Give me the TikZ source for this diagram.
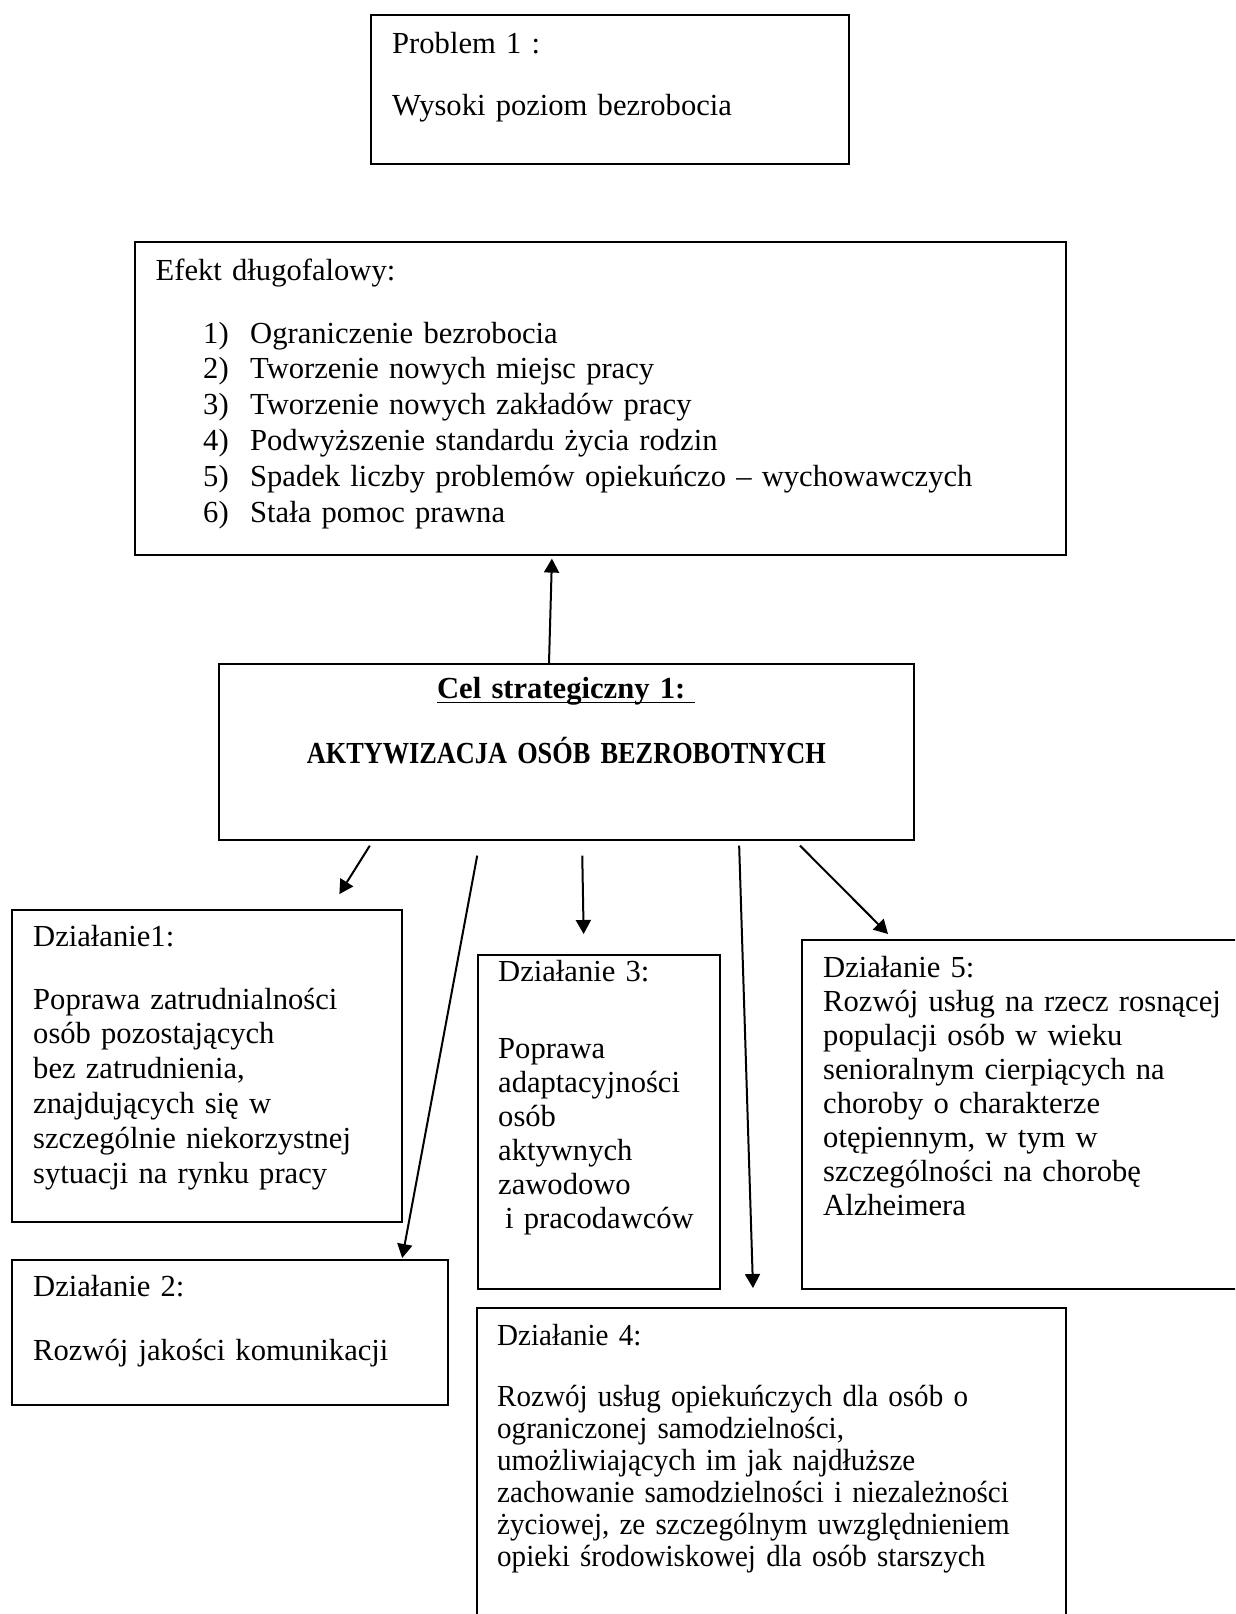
\documentclass[tikz,border=0pt]{standalone}
\usepackage{fontspec}
\setmainfont{Liberation Serif}
\newfontfamily\capsfont[FakeStretch=0.86]{Liberation Serif}
\newfontfamily\narrowfont[FakeStretch=0.95]{Liberation Serif}
\usetikzlibrary{arrows.meta,calc}
\newcommand{\efpunkt}[1]{\hspace*{47.5pt}\makebox[47pt][l]{#1}}

\begin{document}
\begin{tikzpicture}[x=1pt,y=-1pt,
                    box/.style={draw, line width=1.6pt, inner sep=0pt, anchor=north west},
                    txt/.style={inner sep=0pt, anchor=base west, align=left, text width=#1},
                    txt/.default=900pt,
                    times/.style={font=\fontsize{30.6}{#1}\selectfont},
                    times/.default=34.8pt,
                    arr/.style={line width=2pt, -{Triangle[length=14pt,width=15pt]}}]
                    \useasboundingbox (0,0) rectangle (1235,1614);
                    \clip (0,0) rectangle (1235,1614);
                    % problem i efekt
                    \node[box, minimum width=478pt, minimum height=149pt] (prob) at (370,14) {};
                    \node[txt, times=35.8pt] (probtxt) at ($(prob.north west)+(22,39)$)
                        {Problem 1 :\\[26.2pt] Wysoki poziom bezrobocia};
                    \node[box, minimum width=931pt, minimum height=313pt] (efekt) at (134,241) {};
                    \node[txt, times=35.8pt] (efekttxt) at ($(efekt.north west)+(21.5,39)$)
                        {Efekt długofalowy:\\[27.2pt]
                         \efpunkt{1)}Ograniczenie bezrobocia\\
                         \efpunkt{2)}Tworzenie nowych miejsc pracy\\
                         \efpunkt{3)}Tworzenie nowych zakładów pracy\\
                         \efpunkt{4)}Podwyższenie standardu życia rodzin\\
                         \efpunkt{5)}Spadek liczby problemów opiekuńczo – wychowawczych\\
                         \efpunkt{6)}Stała pomoc prawna};
                    % cel
                    \node[box, minimum width=695pt, minimum height=176pt] (cel) at (218,663) {};
                    \node[txt=680pt, times=35.8pt, anchor=base, align=center] (celtxt) at ($(cel.north)+(0,35)$)
                        {\bfseries\underline{\smash{Cel strategiczny 1:}\ \rule[-3pt]{0pt}{3pt}}\\[29.2pt]
                         {\capsfont\bfseries AKTYWIZACJA OSÓB BEZROBOTNYCH}};
                    % dzialania
                    \node[box, minimum width=390pt, minimum height=312pt] (dz1) at (11,909) {};
                    \node[txt, times] (dz1txt) at ($(dz1.north west)+(22,37)$)
                        {Działanie1:\\[28.2pt] Poprawa zatrudnialności\\ osób pozostających\\ bez zatrudnienia,\\
                         znajdujących się w\\ szczególnie niekorzystnej\\ sytuacji na rynku pracy};
                    \node[box, minimum width=436pt, minimum height=145pt] (dz2) at (11,1259) {};
                    \node[txt, times] (dz2txt) at ($(dz2.north west)+(22,37)$)
                        {Działanie 2:\\[29.2pt] Rozwój jakości komunikacji};
                    \node[box, minimum width=242pt, minimum height=334pt] (dz3) at (477,954) {};
                    \node[txt, times=34pt] (dz3txt) at ($(dz3.north west)+(21,27)$)
                        {Działanie 3:\\[43pt] Poprawa\\ adaptacyjności\\ osób\\ aktywnych\\ zawodowo\\ \hspace*{7pt}i pracodawców};
                    \node[box, minimum width=589pt, minimum height=400pt] (dz4) at (476,1307) {};
                    \node[txt, times=32pt] (dz4txt) at ($(dz4.north west)+(21,38)$)
                        {\narrowfont Działanie 4:\\[29pt] Rozwój usług opiekuńczych dla osób o\\ ograniczonej samodzielności,\\
                         umożliwiających im jak najdłuższe\\ zachowanie samodzielności i niezależności\\
                         życiowej, ze szczególnym uwzględnieniem\\ opieki środowiskowej dla osób starszych};
                    \node[box, minimum width=500pt, minimum height=349pt] (dz5) at (801,939) {};
                    \node[txt, times=34pt] (dz5txt) at ($(dz5.north west)+(22,38)$)
                        {Działanie 5:\\ Rozwój usług na rzecz rosnącej\\ populacji osób w wieku\\ senioralnym cierpiących na\\
                         choroby o charakterze\\ otępiennym, w tym w\\ szczególności na chorobę\\ Alzheimera};
                    % strzalki
                    \draw[arr, shorten >=3pt] ($(cel.north west)+(331,0)$) -- ($(efekt.south west)+(418,0)$);
                    \draw[arr, shorten <=6pt, shorten >=17.6pt] ($(cel.south west)+(155,0)$) -- ($(dz1.north west)+(319,0)$);
                    \draw[arr, shorten <=15.3pt, shorten >=1pt] ($(cel.south west)+(262,0)$) -- ($(dz2.north west)+(391,0)$);
                    \draw[arr, shorten <=15pt, shorten >=20pt] ($(cel.south west)+(364,0)$) -- ($(dz3.north west)+(107,0)$);
                    \draw[arr, shorten <=5pt, shorten >=19pt] ($(cel.south west)+(521,0)$) -- ($(dz4.north west)+(277.6,0)$);
                    \draw[arr, shorten <=7pt, shorten >=7pt] ($(cel.south west)+(577,0)$) -- ($(dz5.north west)+(92,0)$);
                \end{tikzpicture}
\end{document}
